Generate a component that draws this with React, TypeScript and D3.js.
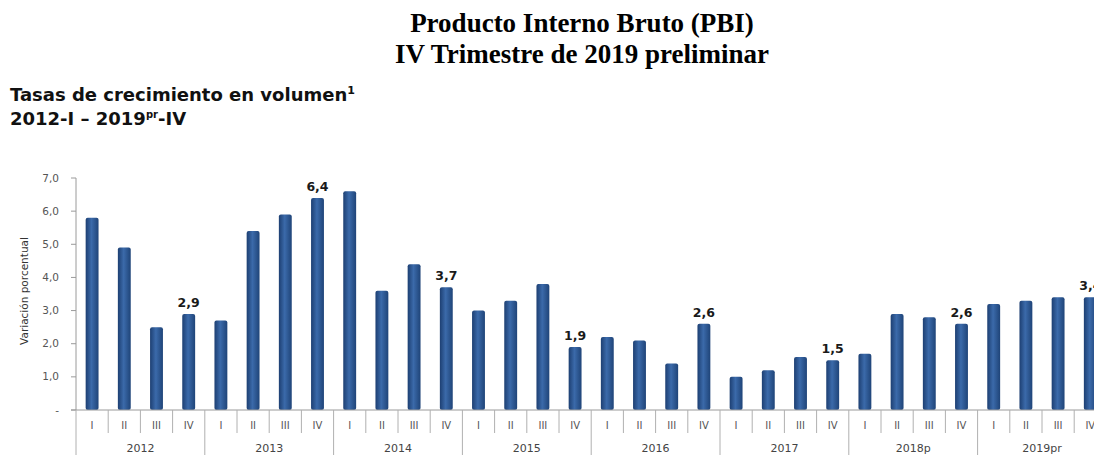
import { useEffect } from "react";
import * as d3 from "d3";

const years = ["2012", "2013", "2014", "2015", "2016", "2017", "2018p", "2019pr"];
const quarters = ["I", "II", "III", "IV"];
const growth = [
  5.8, 4.9, 2.5, 2.9,
  2.7, 5.4, 5.9, 6.4,
  6.6, 3.6, 4.4, 3.7,
  3.0, 3.3, 3.8, 1.9,
  2.2, 2.1, 1.4, 2.6,
  1.0, 1.2, 1.6, 1.5,
  1.7, 2.9, 2.8, 2.6,
  3.2, 3.3, 3.4, 3.4,
];
const yTicks = [0, 1, 2, 3, 4, 5, 6, 7];

const W = 1094;
const H = 455;
const x0 = 76;
const step = 32.2;
const baseY = 410;
const topY = 178;

const fmt = (v: number) => (v === 0 ? "-" : v.toFixed(1).replace(".", ","));

const App = () => {
  useEffect(() => {
    document.body.style.margin = "0";
  }, []);

  const idx = growth.map((_, i) => i);
  const xCat = d3.scaleBand<number>().domain(idx).range([x0, x0 + step * idx.length]).padding(0);
  const xBar = d3
    .scaleBand<number>()
    .domain(idx)
    .range([x0, x0 + step * idx.length])
    .paddingInner(0.6)
    .paddingOuter(0.3);
  const y = d3.scaleLinear().domain([0, 7]).range([baseY, topY]);

  const sans = "'DejaVu Sans', sans-serif";

  return (
    <svg width={W} height={H} style={{ display: "block", background: "#fff" }}>
      <defs>
        <linearGradient id="barGrad" x1="0" x2="1" y1="0" y2="0">
          <stop offset="0" stopColor="#1d3f72" />
          <stop offset="0.45" stopColor="#3b6aaa" />
          <stop offset="1" stopColor="#1f4478" />
        </linearGradient>
      </defs>

      {/* títulos */}
      <text x={582} y={32} textAnchor="middle" fontFamily="'Liberation Serif', serif" fontWeight="bold" fontSize={27} fill="#000">
        Producto Interno Bruto (PBI)
      </text>
      <text x={582} y={63} textAnchor="middle" fontFamily="'Liberation Serif', serif" fontWeight="bold" fontSize={27} fill="#000">
        IV Trimestre de 2019 preliminar
      </text>
      <text x={10} y={101} fontFamily={sans} fontWeight="bold" fontSize={18} fill="#111">
        Tasas de crecimiento en volumen
        <tspan fontSize={11} dy={-7}>1</tspan>
      </text>
      <text x={10} y={125} fontFamily={sans} fontWeight="bold" fontSize={18} fill="#111">
        2012-I – 2019
        <tspan fontSize={10} dy={-7}>pr</tspan>
        <tspan dy={7}>-IV</tspan>
      </text>

      {/* eje y */}
      <line x1={x0} x2={x0} y1={topY} y2={baseY} stroke="#9a9a9a" />
      {yTicks.map((t) => (
        <g key={t}>
          <line x1={x0 - 5} x2={x0} y1={y(t)} y2={y(t)} stroke="#9a9a9a" />
          <text x={59} y={y(t) + 3.5} textAnchor="end" fontFamily={sans} fontSize={10.5} fill="#555">
            {fmt(t)}
          </text>
        </g>
      ))}
      <text
        transform={`translate(28, 291) rotate(-90)`}
        textAnchor="middle"
        fontFamily={sans}
        fontSize={10.5}
        fill="#333"
      >
        Variación porcentual
      </text>

      {/* barras */}
      {growth.map((v, i) => (
        <rect
          key={i}
          x={xBar(i)}
          y={y(v)}
          width={xBar.bandwidth()}
          height={baseY - y(v)}
          rx={2}
          fill="url(#barGrad)"
        />
      ))}
      {growth.map((v, i) =>
        i % 4 === 3 ? (
          <text
            key={"l" + i}
            x={(xBar(i) as number) + xBar.bandwidth() / 2}
            y={y(v) - 7}
            textAnchor="middle"
            fontFamily={sans}
            fontWeight="bold"
            fontSize={12.5}
            fill="#1a1a1a"
          >
            {fmt(v)}
          </text>
        ) : null
      )}

      {/* eje x */}
      <line x1={x0 - 5} x2={W} y1={baseY} y2={baseY} stroke="#9a9a9a" />
      {idx.map((i) => (
        <line
          key={"s" + i}
          x1={xCat(i)}
          x2={xCat(i)}
          y1={baseY}
          y2={i % 4 === 0 ? H : baseY + 23}
          stroke="#b0b0b0"
        />
      ))}
      {idx.map((i) => (
        <text
          key={"q" + i}
          x={(xCat(i) as number) + xCat.bandwidth() / 2}
          y={429}
          textAnchor="middle"
          fontFamily={sans}
          fontSize={10}
          fill="#555"
        >
          {quarters[i % 4]}
        </text>
      ))}
      {years.map((yr, k) => (
        <text
          key={yr}
          x={(xCat(k * 4) as number) + xCat.bandwidth() * 2}
          y={452}
          textAnchor="middle"
          fontFamily={sans}
          fontSize={11}
          fill="#444"
        >
          {yr}
        </text>
      ))}
    </svg>
  );
};

export default App;
